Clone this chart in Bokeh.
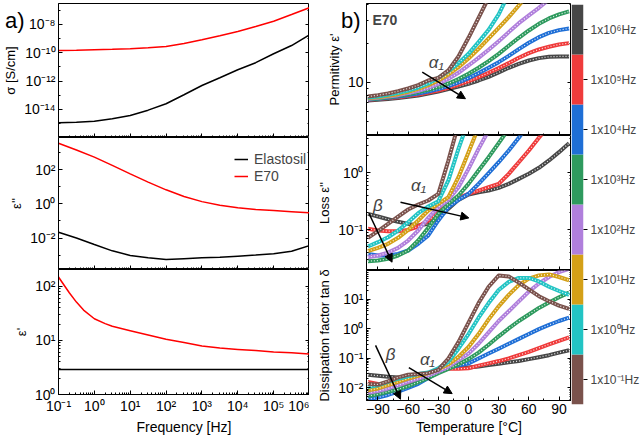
import numpy as np
from bokeh.plotting import figure
from bokeh.models import (FixedTicker, CustomJSTickFormatter, LogAxis, LinearAxis, Label,
                          Arrow, NormalHead, Legend, LegendItem, Range1d, GridBox, Div)
from bokeh.layouts import row
from bokeh.embed import file_html
from bokeh.resources import INLINE

FONT = "Liberation Sans"

# ---------------- Panel a data (frequency sweep) ----------------
freq = [1e-1, 3.16e-1, 1, 3.16, 10, 31.6, 100, 316, 1e3, 3.16e3, 1e4, 3.16e4, 1e5, 3.16e5, 1e6]
sigma_e70_log10 = [-9.84, -9.82, -9.79, -9.76, -9.72, -9.65, -9.56, -9.35, -9.08, -8.8, -8.5, -8.15, -7.77, -7.3, -6.82]
sigma_elastosil_log10 = [-14.94, -14.9, -14.83, -14.65, -14.42, -14.05, -13.6, -12.96, -12.31, -11.76, -11.2, -10.7, -10.07, -9.49, -8.73]
eps2_e70_log10 = [3.54, 3.15, 2.73, 2.25, 1.75, 1.27, 0.82, 0.43, 0.13, -0.08, -0.23, -0.33, -0.39, -0.46, -0.53]
eps2_elastosil_log10 = [-1.66, -2.0, -2.38, -2.75, -3.02, -3.15, -3.26, -3.21, -3.16, -3.12, -3.06, -3.0, -2.92, -2.77, -2.44]
freq_eps1 = [1e-1, 2e-1, 3.16e-1, 5e-1, 1, 2, 3.16, 10, 31.6, 100, 316, 1e3, 3.16e3, 1e4, 3.16e4, 1e5, 3.16e5, 1e6]
eps1_e70 = [148, 76, 51, 36.3, 25.1, 20.4, 18.2, 15.1, 12.6, 10.5, 9.1, 7.9, 7.2, 6.8, 6.5, 6.1, 5.9, 5.6]
eps1_elastosil = [2.9] * 18
freq_ticks = [1e-1, 1, 10, 100, 1e3, 1e4, 1e5, 1e6]

# ---------------- Panel b data (temperature sweep, E70) ----------------
temps = [-100, -90, -80, -70, -60, -50, -40, -30, -20, -10, 0, 10, 20, 30, 40, 50, 60, 70, 80, 90, 100]
freq_labels = ["1x10\u207b\u00b9Hz", "1x10\u2070Hz", "1x10\u00b9Hz", "1x10\u00b2Hz",
               "1x10\u00b3Hz", "1x10\u2074Hz", "1x10\u2075Hz", "1x10\u2076Hz"]
colors = ["#7a524c", "#22c4c4", "#d4a017", "#b07fdc", "#2e9a5e", "#1f6fd6", "#ef3b3b", "#474747"]

perm = {  # epsilon'
    "1e-1": [7.80, 7.99, 8.23, 8.58, 8.99, 9.54, 10.36, 10.86, 12.37, 15.85, 22.07, 31.44, 44.80, 64.0, 80.0, 92.0, 100.0, 106.0, 110.0, 113.0, 115.0],
    "1e0": [7.67, 7.80, 8.04, 8.33, 8.68, 9.15, 9.82, 10.86, 12.22, 14.08, 16.61, 20.43, 25.42, 33.36, 48.1, 60.0, 70.0, 78.0, 84.0, 88.0, 91.0],
    "1e1": [7.58, 7.71, 7.90, 8.13, 8.48, 8.94, 9.54, 10.36, 11.52, 13.12, 15.29, 18.15, 21.80, 26.34, 31.82, 39.11, 48.09, 59.0, 66.0, 71.0, 75.0],
    "1e2": [7.49, 7.62, 7.80, 7.99, 8.28, 8.63, 9.10, 9.76, 10.67, 11.87, 13.51, 15.48, 17.84, 20.79, 24.39, 28.60, 32.77, 37.53, 43.50, 50.43, 57.4],
    "1e3": [7.45, 7.53, 7.71, 7.90, 8.13, 8.43, 8.78, 9.21, 9.82, 10.61, 11.66, 12.97, 14.59, 16.61, 19.15, 22.06, 25.12, 28.27, 31.07, 33.36, 35.18],
    "1e4": [7.40, 7.49, 7.62, 7.80, 7.99, 8.23, 8.53, 8.89, 9.37, 10.0, 10.80, 11.80, 12.97, 14.33, 16.03, 18.05, 20.19, 22.32, 24.10, 25.27, 26.03],
    "1e5": [7.36, 7.45, 7.58, 7.71, 7.90, 8.09, 8.38, 8.68, 9.10, 9.65, 10.24, 10.99, 11.87, 12.89, 14.08, 15.48, 16.81, 17.94, 18.81, 19.60, 20.07],
    "1e6": [7.27, 7.36, 7.45, 7.58, 7.76, 7.94, 8.23, 8.53, 8.89, 9.31, 9.76, 10.36, 11.05, 11.94, 12.97, 13.92, 14.76, 15.39, 15.76, 15.85, 15.85],
}
loss_log10 = {  # log10 epsilon''
    "1e-1": [-1.146, -1.029, -0.901, -0.772, -0.649, -0.561, -0.491, -0.374, 0.211, 0.854, 1.4, 1.8, 2.1, 2.4, 2.6, 2.8, 3.0, 3.1, 3.2, 3.3, 3.4],
    "1e0": [-1.298, -1.222, -1.135, -1.018, -0.871, -0.713, -0.596, -0.503, -0.140, 0.415, 0.912, 1.3, 1.6, 1.9, 2.1, 2.3, 2.5, 2.6, 2.7, 2.8, 2.9],
    "1e1": [-1.380, -1.322, -1.251, -1.146, -1.006, -0.842, -0.667, -0.550, -0.433, -0.082, 0.357, 0.795, 1.2, 1.5, 1.8, 2.0, 2.2, 2.4, 2.5, 2.6, 2.7],
    "1e2": [-1.485, -1.456, -1.404, -1.322, -1.193, -1.018, -0.795, -0.608, -0.480, -0.257, 0.064, 0.415, 0.737, 1.05, 1.35, 1.6, 1.85, 2.05, 2.2, 2.35, 2.5],
    "1e3": [-1.556, -1.544, -1.515, -1.456, -1.368, -1.193, -0.971, -0.725, -0.550, -0.404, -0.199, 0.035, 0.269, 0.515, 0.766, 1.0, 1.25, 1.5, 1.7, 1.9, 2.1],
    "1e4": [-1.427, -1.456, -1.456, -1.427, -1.368, -1.251, -1.105, -0.842, -0.608, -0.480, -0.374, -0.199, -0.012, 0.181, 0.386, 0.608, 0.854, 1.1, 1.3, 1.5, 1.7],
    "1e5": [-0.988, -1.018, -1.029, -1.029, -1.006, -0.947, -0.842, -0.696, -0.550, -0.444, -0.374, -0.316, -0.257, -0.199, -0.023, 0.181, 0.386, 0.608, 0.827, 1.0, 1.2],
    "1e6": [-0.725, -0.772, -0.819, -0.865, -0.901, -0.930, -0.901, -0.795, -0.637, -0.480, -0.386, -0.345, -0.316, -0.269, -0.199, -0.111, -0.023, 0.082, 0.211, 0.357, 0.515],
}
tand_log10 = {  # log10 tan(delta)
    "1e-1": [-1.867, -1.889, -1.779, -1.647, -1.558, -1.536, -1.503, -1.393, -1.007, -0.455, 0.206, 0.868, 1.419, 1.800, 1.770, 1.560, 1.330, 1.100, 0.930, 0.779, 0.669],
    "1e0": [-1.977, -1.911, -1.801, -1.691, -1.613, -1.536, -1.481, -1.337, -1.117, -0.676, -0.180, 0.372, 0.868, 1.309, 1.584, 1.720, 1.720, 1.600, 1.419, 1.276, 1.143],
    "1e1": [-2.088, -2.022, -1.911, -1.801, -1.691, -1.591, -1.503, -1.371, -1.205, -0.951, -0.621, -0.180, 0.316, 0.757, 1.143, 1.474, 1.695, 1.805, 1.838, 1.750, 1.640],
    "1e2": [-2.165, -2.110, -2.022, -1.911, -1.801, -1.691, -1.580, -1.448, -1.282, -1.062, -0.841, -0.510, -0.124, 0.261, 0.592, 0.923, 1.254, 1.529, 1.750, 1.915, 2.025],
    "1e3": [-2.275, -2.220, -2.132, -2.055, -1.944, -1.812, -1.668, -1.503, -1.359, -1.205, -1.029, -0.808, -0.544, -0.257, 0.008, 0.261, 0.482, 0.703, 0.890, 1.066, 1.221],
    "1e4": [-2.385, -2.330, -2.242, -2.132, -2.000, -1.867, -1.668, -1.470, -1.315, -1.249, -1.172, -1.007, -0.841, -0.676, -0.510, -0.345, -0.180, -0.014, 0.129, 0.261, 0.372],
    "1e5": [-1.801, -1.867, -1.911, -1.889, -1.834, -1.724, -1.558, -1.426, -1.359, -1.359, -1.337, -1.249, -1.172, -1.095, -1.007, -0.896, -0.786, -0.654, -0.533, -0.411, -0.290],
    "1e6": [-1.558, -1.591, -1.624, -1.647, -1.647, -1.613, -1.503, -1.393, -1.315, -1.315, -1.315, -1.282, -1.227, -1.184, -1.139, -1.095, -1.029, -0.963, -0.896, -0.808, -0.731],
}
freq_keys = ["1e-1", "1e0", "1e1", "1e2", "1e3", "1e4", "1e5", "1e6"]
temp_ticks = [-90, -60, -30, 0, 30, 60, 90]

# ---------------- helpers ----------------
LOG_JS = """
const s = {'-':'\u207b','0':'\u2070','1':'\u00b9','2':'\u00b2','3':'\u00b3','4':'\u2074','5':'\u2075','6':'\u2076','7':'\u2077','8':'\u2078','9':'\u2079'};
const e = Math.round(Math.log10(tick));
if (plain && e == 1) { return '10'; }
return '10' + String(e).split('').map(c => s[c]).join('');
"""


def log_fmt(plain=False):
    return CustomJSTickFormatter(args=dict(plain=plain), code=LOG_JS)


def style_axis(ax, labels=True, size="14px"):
    ax.axis_line_color = "black"
    ax.major_tick_line_color = "black"
    ax.minor_tick_line_color = "black"
    ax.major_tick_in = 4
    ax.major_tick_out = 0
    ax.minor_tick_in = 2
    ax.minor_tick_out = 0
    ax.major_label_text_font = FONT
    ax.major_label_text_color = "black"
    ax.axis_label_text_font = FONT
    ax.axis_label_text_font_style = "normal"
    ax.axis_label_text_color = "black"
    if labels:
        ax.major_label_text_font_size = size
        ax.major_label_standoff = 3
    else:
        ax.major_label_text_font_size = "1px"
        ax.major_label_text_alpha = 0
        ax.major_label_standoff = 0


def minor_log(lo, hi, mult=(2, 3, 4, 5, 6, 7, 8, 9)):
    out = []
    for e in range(lo, hi + 1):
        for m in mult:
            out.append(m * 10.0 ** e)
    return out


def make_fig(w, h, xr, yr, xt, yt, left, right, top, bottom):
    p = figure(width=w, height=h, x_range=xr, y_range=yr, x_axis_type=xt, y_axis_type=yt,
               output_backend="svg", toolbar_location=None,
               min_border_left=left, min_border_right=right, min_border_top=top,
               min_border_bottom=bottom)
    p.grid.visible = False
    p.outline_line_color = "black"
    p.outline_line_width = 1
    p.background_fill_color = "white"
    p.border_fill_color = "white"
    return p


def mirror(p, side, kind, ticker):
    ax = LogAxis(ticker=ticker) if kind == "log" else LinearAxis(ticker=ticker)
    style_axis(ax, labels=False)
    p.add_layout(ax, side)


def corner_text(text, left_px, top_px):
    html = ('<div style="position:relative; left:%dpx; top:%dpx; font-family:\'Liberation Sans\';'
            ' font-size:22px; line-height:22px; color:black; white-space:nowrap;">%s</div>'
            % (left_px, top_px, text))
    return Div(text=html, width=40, height=30)


fx_ticker = FixedTicker(ticks=freq_ticks, minor_ticks=minor_log(-1, 5))

# ---------------- Panel a ----------------
A_W, A_L = 309, 54
a1 = make_fig(A_W, 137, Range1d(0.1, 1e6), Range1d(1.05e-16, 3.0e-7), "log", "log", A_L, 0, 3, 0)
a2 = make_fig(A_W, 132, Range1d(0.1, 1e6), Range1d(1.44e-4, 7.6e3), "log", "log", A_L, 0, 0, 0)
a3 = make_fig(A_W, 168, Range1d(0.1, 1e6), Range1d(1.0, 204), "log", "log", A_L, 0, 0, 35)

a_y_tickers = [
    FixedTicker(ticks=[1e-14, 1e-12, 1e-10, 1e-8], minor_ticks=[10.0 ** e for e in range(-16, -6)]),
    FixedTicker(ticks=[1e-2, 1, 1e2], minor_ticks=[10.0 ** e for e in range(-4, 4)]),
    FixedTicker(ticks=[1, 10, 100], minor_ticks=minor_log(0, 2)),
]
a_labels = ["\u03c3 [S/cm]", "\u03b5''", "\u03b5'"]
for i, p in enumerate([a1, a2, a3]):
    p.yaxis.ticker = a_y_tickers[i]
    p.yaxis.formatter = log_fmt()
    style_axis(p.yaxis[0])
    p.yaxis.axis_label = a_labels[i]
    p.yaxis.axis_label_text_font_size = "13px"
    p.yaxis.axis_label_standoff = 3
    p.xaxis.ticker = fx_ticker
    p.xaxis.formatter = log_fmt()
    style_axis(p.xaxis[0], labels=(i == 2))
    mirror(p, "right", "log", a_y_tickers[i])

a3.xaxis.axis_label = "Frequency [Hz]"
a3.xaxis.axis_label_text_font_size = "14px"
a3.xaxis.axis_label_standoff = 2

a1.line(freq, list(10 ** np.array(sigma_elastosil_log10)), color="black", line_width=1.5)
a1.line(freq, list(10 ** np.array(sigma_e70_log10)), color="#ff0000", line_width=1.5)
r_el = a2.line(freq, list(10 ** np.array(eps2_elastosil_log10)), color="black", line_width=1.5)
r_e70 = a2.line(freq, list(10 ** np.array(eps2_e70_log10)), color="#ff0000", line_width=1.5)
a3.line(freq_eps1, eps1_elastosil, color="black", line_width=1.5)
a3.line(freq_eps1, eps1_e70, color="#ff0000", line_width=1.5, line_join="round")

leg = Legend(items=[LegendItem(label="Elastosil", renderers=[r_el]),
                    LegendItem(label="E70", renderers=[r_e70])],
             location=(176, 85), padding=0, spacing=1, glyph_width=14, glyph_height=14,
             label_height=14, label_standoff=6, label_text_font=FONT,
             label_text_font_size="14px", border_line_color=None,
             background_fill_alpha=0)
a2.add_layout(leg)

# ---------------- Panel b ----------------
B_W, B_L = 262, 57
b1 = make_fig(B_W, 135, Range1d(-101.4, 102.4), Range1d(3.91, 40.5), "linear", "log", B_L, 0, 3, 0)
b2 = make_fig(B_W, 135, Range1d(-101.4, 102.4), Range1d(0.0191, 4.46), "linear", "log", B_L, 0, 0, 0)
b3 = make_fig(B_W, 167, Range1d(-101.4, 102.4), Range1d(0.00372, 93.3), "linear", "log", B_L, 0, 0, 34)

b_y_tickers = [
    FixedTicker(ticks=[10], minor_ticks=[4, 5, 6, 7, 8, 9, 20, 30, 40]),
    FixedTicker(ticks=[0.1, 1], minor_ticks=minor_log(-2, 0)),
    FixedTicker(ticks=[1e-2, 1e-1, 1, 10], minor_ticks=minor_log(-3, 1)),
]
b_labels = ["Permitivity \u03b5'", "Loss \u03b5''", "Dissipation factor tan \u03b4"]
for i, p in enumerate([b1, b2, b3]):
    p.yaxis.ticker = b_y_tickers[i]
    p.yaxis.formatter = log_fmt(plain=(i == 0))
    style_axis(p.yaxis[0])
    p.yaxis.axis_label = b_labels[i]
    p.yaxis.axis_label_text_font_size = "13px"
    p.yaxis.axis_label_standoff = 3
    p.xaxis.ticker = FixedTicker(ticks=temp_ticks, minor_ticks=list(range(-105, 106, 15)))
    style_axis(p.xaxis[0], labels=(i == 2))
    mirror(p, "right", "log", b_y_tickers[i])

b3.xaxis.axis_label = "Temperature [\u00b0C]"
b3.xaxis.axis_label_text_font_size = "14px"
b3.xaxis.axis_label_standoff = 2


def band(p, x, y, color):
    p.line(x, y, color=color, line_width=4, line_join="round")
    p.line(x, y, color="white", line_width=1.2, line_dash="1 2", line_alpha=0.9)


for k, c in list(zip(freq_keys, colors))[::-1]:
    band(b1, temps, perm[k], c)
    band(b2, temps, list(10 ** np.array(loss_log10[k])), c)
    band(b3, temps, list(10 ** np.array(tand_log10[k])), c)


def arrow(p, x0, y0, x1, y1):
    p.add_layout(Arrow(end=NormalHead(size=8, fill_color="black", line_color="black"),
                       x_start=x0, y_start=y0, x_end=x1, y_end=y1, line_width=1.5))


arrow(b1, -46, 12.0, -3, 7.5)
arrow(b2, -67.6, 0.301, 0.3, 0.160)
arrow(b2, -99, 0.193, -76, 0.0267)
arrow(b3, -92.4, 0.272, -67.6, 0.0041)
arrow(b3, -59.3, 0.0484, -16.2, 0.00635)


def greek(p, x, y, t):
    p.add_layout(Label(x=x, y=y, text=t, text_font=FONT, text_font_size="17px",
                       text_font_style="italic", text_align="center", text_baseline="middle"))


greek(b1, -32, 14.3, "\u03b1\u2081")
greek(b2, -49.7, 0.59, "\u03b1\u2081")
greek(b2, -90, 0.264, "\u03b2")
greek(b3, -77.5, 0.133, "\u03b2")
greek(b3, -40.8, 0.091, "\u03b1\u2081")

b1.add_layout(Label(x=6, y=124, x_units="screen", y_units="screen", text="E70",
                    text_font=FONT, text_font_size="14px", text_font_style="bold",
                    text_baseline="top"))

# ---------------- colour bar ----------------
cb = figure(width=71, height=437, x_range=Range1d(0, 1), y_range=Range1d(0, 8),
            y_axis_location="right", output_backend="svg", toolbar_location=None,
            min_border_left=0, min_border_right=56, min_border_top=4, min_border_bottom=33)
cb.grid.visible = False
cb.xaxis.visible = False
cb.outline_line_color = None
cb.quad(left=0, right=1, bottom=list(range(8)), top=list(range(1, 9)), fill_color=colors,
        line_color=None)
cb.yaxis.ticker = FixedTicker(ticks=[i + 0.5 for i in range(8)], minor_ticks=[])
cb.yaxis.formatter = CustomJSTickFormatter(args=dict(labels=freq_labels),
                                           code="return labels[Math.floor(tick)];")
cb.yaxis.axis_line_color = None
cb.yaxis.major_tick_in = 0
cb.yaxis.major_tick_out = 4
cb.yaxis.major_tick_line_color = "black"
cb.yaxis.major_label_standoff = 3
cb.yaxis.major_label_text_font = FONT
cb.yaxis.major_label_text_font_size = "12px"

grid_a = GridBox(children=[(a1, 0, 0), (a2, 1, 0), (a3, 2, 0), (corner_text("a)", 0, 5), 0, 0)])
grid_b = GridBox(children=[(b1, 0, 0), (b2, 1, 0), (b3, 2, 0), (corner_text("b)", 27, 5), 0, 0)])
layout = row(grid_a, grid_b, cb)

open("out.html", "w").write(file_html(layout, INLINE))
